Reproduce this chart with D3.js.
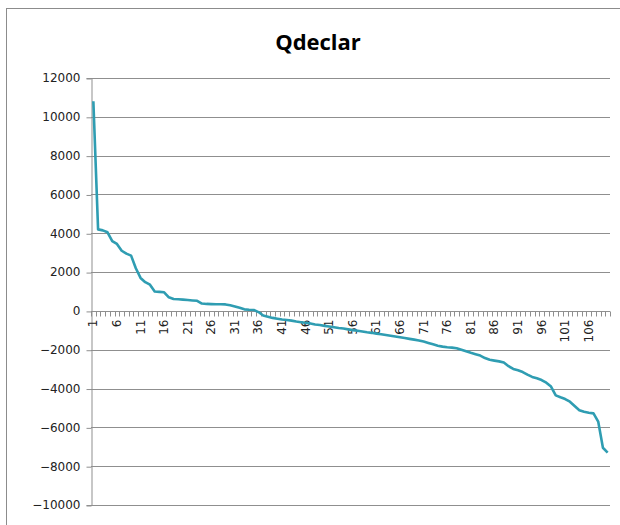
<!DOCTYPE html>
<html>
<head>
<meta charset="utf-8">
<script src="https://cdn.jsdelivr.net/npm/d3@7"></script>
<style>
  body { margin: 0; background: #fff; }
  text { font-family: "DejaVu Sans", sans-serif; }
</style>
</head>
<body>
<div class="canva"></div>
<script>
// values, one per category (1..110)
const qdeclar = [
  10800, 4200, 4150, 4050, 3600, 3450, 3100, 2950, 2850, 2200,
  1700, 1480, 1350, 1000, 980, 960, 700, 610, 600, 580,
  560, 540, 520, 380, 360, 350, 345, 340, 335, 290,
  230, 160, 80, 60, 50, -60, -240, -300, -360, -400,
  -440, -470, -500, -550, -580, -610, -650, -700, -730, -770,
  -800, -840, -880, -910, -950, -990, -1020, -1060, -1100, -1130,
  -1170, -1200, -1240, -1280, -1320, -1360, -1400, -1440, -1480, -1520,
  -1580, -1650, -1720, -1790, -1840, -1870, -1890, -1920, -2000, -2080,
  -2160, -2230, -2300, -2430, -2520, -2560, -2600, -2660, -2850, -2990,
  -3060, -3150, -3280, -3400, -3470, -3560, -3700, -3900, -4350, -4450,
  -4540, -4680, -4900, -5120, -5200, -5250, -5280, -5700, -7050, -7300
];
const categories = qdeclar.map((d, i) => i + 1);
const yTicks = [-10000, -8000, -6000, -4000, -2000, 0, 2000, 4000, 6000, 8000, 10000, 12000];
const title = 'Qdeclar';

const width = 620, height = 525;
const margin = { top: 78, right: 10, bottom: 19, left: 91 };

const svg = d3.select('.canva').append('svg')
  .attr('width', width)
  .attr('height', height);

// chart area border
svg.append('rect')
  .attr('x', 6.5).attr('y', 8.5)
  .attr('width', 640).attr('height', 540)
  .attr('fill', 'none')
  .attr('stroke', '#8c8c8c');

svg.append('text')
  .attr('x', 318).attr('y', 50)
  .attr('text-anchor', 'middle')
  .style('font-family', '"Open Sans", sans-serif')
  .style('font-weight', 'bold')
  .style('font-size', '22px')
  .attr('fill', '#000')
  .text(title);

const x = d3.scaleBand()
  .domain(categories)
  .range([margin.left, width - margin.right]);

const y = d3.scaleLinear()
  .domain([-10000, 12000])
  .range([height - margin.bottom - 1, margin.top]);

// gridlines
svg.append('g')
  .selectAll('line')
  .data(yTicks)
  .join('line')
  .attr('x1', margin.left).attr('x2', width - margin.right)
  .attr('y1', d => Math.round(y(d)) + 0.5)
  .attr('y2', d => Math.round(y(d)) + 0.5)
  .attr('stroke', '#8f8f8f');

// value axis
const yAxis = svg.append('g')
  .attr('transform', `translate(${margin.left + 0.5},0)`)
  .call(d3.axisLeft(y).tickValues(yTicks).tickSize(5).tickPadding(6).tickFormat(d3.format('d')));
yAxis.select('.domain').attr('stroke', '#8f8f8f');
yAxis.selectAll('.tick line').attr('stroke', '#8f8f8f')
  .attr('transform', 'translate(0,0.5)');
yAxis.selectAll('.tick text')
  .style('font-size', '12px')
  .attr('fill', '#222');

// category axis on the zero line
const y0 = Math.round(y(0)) + 0.5;
const catAxis = svg.append('g')
  .attr('transform', `translate(0,${y0})`);
catAxis.selectAll('line')
  .data(categories.concat([categories.length + 1]))
  .join('line')
  .attr('x1', d => Math.round(d <= categories.length ? x(d) : x.range()[1]) + 0.5)
  .attr('x2', d => Math.round(d <= categories.length ? x(d) : x.range()[1]) + 0.5)
  .attr('y1', 0).attr('y2', 5)
  .attr('stroke', '#8f8f8f');
catAxis.selectAll('text')
  .data(categories.filter(d => (d - 1) % 5 === 0))
  .join('text')
  .attr('transform', d => `translate(${x(d) + x.bandwidth() / 2 + 4},8) rotate(-90)`)
  .attr('text-anchor', 'end')
  .style('font-size', '12px')
  .attr('fill', '#222')
  .text(d => d);

// series line
const line = d3.line()
  .x((d, i) => x(categories[i]) + x.bandwidth() / 2)
  .y(d => y(d));

svg.append('path')
  .datum(qdeclar)
  .attr('d', line)
  .attr('fill', 'none')
  .attr('stroke', '#2f9db2')
  .attr('stroke-width', 2.6)
  .attr('stroke-linejoin', 'round');
</script>
</body>
</html>
